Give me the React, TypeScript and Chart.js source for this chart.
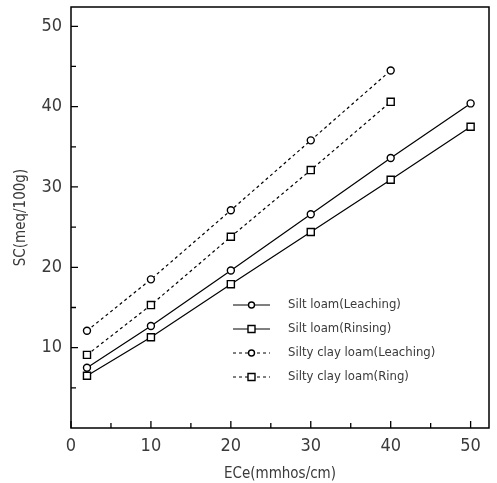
import React, { useEffect, useRef } from "react";
import { Chart, registerables } from "chart.js";

Chart.register(...registerables);

const xValues = [2, 10, 20, 30, 40, 50];
const siltLeaching = [7.5, 12.7, 19.6, 26.6, 33.6, 40.4];
const siltRinsing = [6.5, 11.3, 17.9, 24.4, 30.9, 37.5];
const clayX = [2, 10, 20, 30, 40];
const clayLeaching = [12.1, 18.5, 27.1, 35.8, 44.5];
const clayRing = [9.1, 15.3, 23.8, 32.1, 40.6];

const xTickValues = [0, 10, 20, 30, 40, 50];
const yTickValues = [10, 20, 30, 40, 50];
const minorTickValues = [5, 15, 25, 35, 45];

const seriesLabels = [
  "Silt loam(Leaching)",
  "Silt loam(Rinsing)",
  "Silty clay loam(Leaching)",
  "Silty clay loam(Ring)",
];

const FONT = "'Liberation Sans Narrow', 'DejaVu Sans Condensed', 'Liberation Sans', Arial, sans-serif";
const TEXT = "#3a3a3a";

const toPoints = (xs: number[], ys: number[]) => xs.map((x, i) => ({ x, y: ys[i] }));

const frameAndLegend = {
  id: "frameAndLegend",
  afterDraw(chart: any) {
    const { ctx, chartArea, scales } = chart;
    const { left, right, top, bottom } = chartArea;
    ctx.save();
    ctx.strokeStyle = "#000";
    ctx.lineWidth = 1.5;
    ctx.beginPath();
    ctx.rect(left, top, right - left, bottom - top);
    ctx.stroke();
    // inward ticks
    ctx.lineWidth = 1.3;
    ctx.beginPath();
    [...xTickValues, ...minorTickValues].forEach((v) => {
      const px = scales.x.getPixelForValue(v);
      const len = v % 10 === 0 ? 7 : 5;
      ctx.moveTo(px, bottom);
      ctx.lineTo(px, bottom - len);
    });
    [...yTickValues, ...minorTickValues].forEach((v) => {
      const py = scales.y.getPixelForValue(v);
      const len = v % 10 === 0 ? 7 : 5;
      ctx.moveTo(left, py);
      ctx.lineTo(left + len, py);
    });
    ctx.stroke();

    // legend
    const x0 = left + 162;
    const x1 = left + 199;
    const xm = (x0 + x1) / 2;
    const tx = left + 217;
    const rowY = [top + 298, top + 322, top + 346, top + 370];
    chart.data.datasets.forEach((ds: any, i: number) => {
      const y = rowY[i];
      ctx.strokeStyle = "#000";
      ctx.lineWidth = 1;
      ctx.setLineDash(ds.borderDash || []);
      ctx.beginPath();
      ctx.moveTo(x0, y);
      ctx.lineTo(x1, y);
      ctx.stroke();
      ctx.setLineDash([]);
      ctx.fillStyle = "#fff";
      ctx.lineWidth = 1.4;
      ctx.beginPath();
      if (ds.pointStyle === "rect") {
        ctx.rect(xm - 3.5, y - 3.5, 7, 7);
      } else {
        ctx.arc(xm, y, 3, 0, Math.PI * 2);
      }
      ctx.fill();
      ctx.stroke();
      ctx.fillStyle = TEXT;
      ctx.font = `13px ${FONT}`;
      ctx.textBaseline = "middle";
      ctx.textAlign = "left";
      ctx.fillText(seriesLabels[i], tx, y);
    });
    ctx.restore();
  },
};

export default function App() {
  const ref = useRef<HTMLCanvasElement | null>(null);
  useEffect(() => {
    if (!ref.current) return;
    const mk = (label: string, data: any, style: string, dash: number[]) => ({
      label,
      data,
      borderColor: "#000",
      borderWidth: 1.2,
      borderDash: dash,
      pointStyle: style,
      pointRadius: style === "rect" ? 5 : 3.5,
      pointBackgroundColor: "#fff",
      pointBorderColor: "#000",
      pointBorderWidth: 1.4,
      fill: false,
      tension: 0,
      showLine: true,
    });
    const chart = new Chart(ref.current, {
      type: "scatter",
      data: {
        datasets: [
          mk(seriesLabels[0], toPoints(xValues, siltLeaching), "circle", []),
          mk(seriesLabels[1], toPoints(xValues, siltRinsing), "rect", []),
          mk(seriesLabels[2], toPoints(clayX, clayLeaching), "circle", [3, 3]),
          mk(seriesLabels[3], toPoints(clayX, clayRing), "rect", [3, 3]),
        ] as any,
      },
      options: {
        animation: false,
        responsive: true,
        maintainAspectRatio: false,
        layout: { padding: { top: 7, right: 8, left: 0, bottom: 0 } },
        plugins: { legend: { display: false }, tooltip: { enabled: false } },
        scales: {
          x: {
            type: "linear",
            min: 0,
            max: 52.3,
            afterBuildTicks: (s: any) => {
              s.ticks = xTickValues.map((v) => ({ value: v }));
            },
            afterFit: (s: any) => {
              s.height = 55;
              s.paddingLeft = 0;
              s.paddingRight = 0;
            },
            grid: { display: true, drawOnChartArea: false, drawTicks: false },
            border: { display: false },
            ticks: { padding: 8, color: TEXT, font: { family: FONT, size: 18 }, maxRotation: 0 },
            title: {
              display: true,
              text: "ECe(mmhos/cm)",
              color: TEXT,
              font: { family: FONT, size: 15 },
              padding: { top: 0, bottom: 0 },
            },
          },
          y: {
            type: "linear",
            min: 0,
            max: 52.4,
            afterBuildTicks: (s: any) => {
              s.ticks = yTickValues.map((v) => ({ value: v }));
            },
            afterFit: (s: any) => {
              s.width = 71;
              s.paddingTop = 0;
              s.paddingBottom = 0;
            },
            grid: { display: true, drawOnChartArea: false, drawTicks: false },
            border: { display: false },
            ticks: { padding: 9, color: TEXT, font: { family: FONT, size: 18 } },
            title: {
              display: true,
              text: "SC(meq/100g)",
              color: TEXT,
              font: { family: FONT, size: 15 },
              padding: { top: 12, bottom: 0 },
            },
          },
        },
      },
      plugins: [frameAndLegend],
    });
    return () => chart.destroy();
  }, []);
  return (
    <div style={{ position: "fixed", left: 0, top: 0, width: 497, height: 483, background: "#fff" }}>
      <canvas ref={ref} />
    </div>
  );
}
